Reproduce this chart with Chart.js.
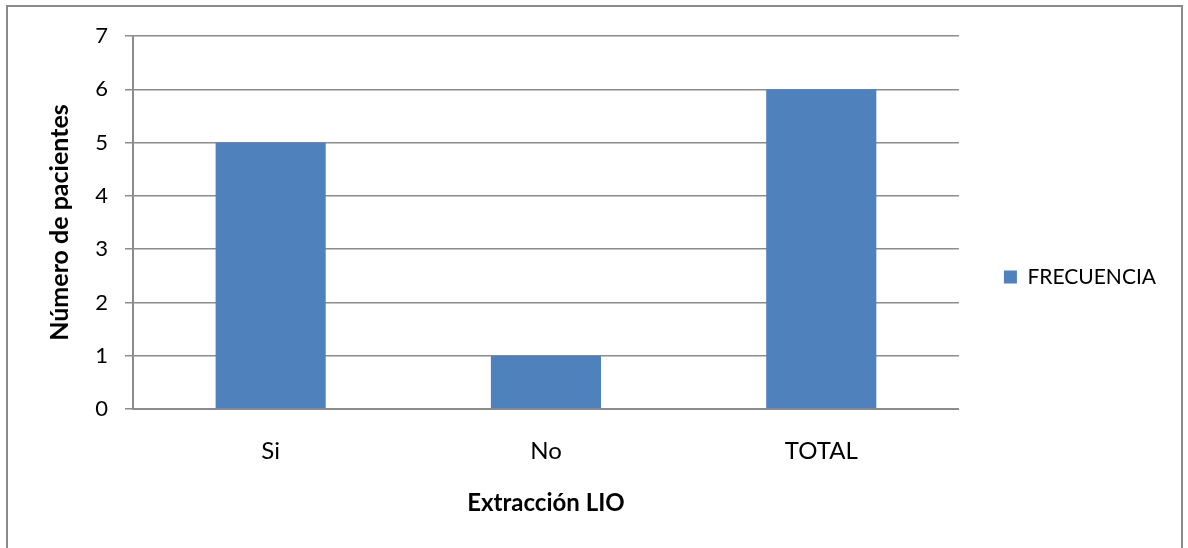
<!DOCTYPE html>
<html>
<head>
<meta charset="utf-8">
<script src="https://cdn.jsdelivr.net/npm/chart.js@4"></script>
<style>
  html, body { margin: 0; padding: 0; background: #ffffff; }
  body { width: 1188px; height: 548px; position: relative; overflow: hidden; }
  #frame {
    position: absolute; left: 6px; top: 5px; width: 1177px; height: 560px;
    border: 2px solid #8a8a8a; box-sizing: border-box; background: #fff;
  }
  #wrap { position: absolute; left: 0; top: 0; width: 1188px; height: 548px; }
</style>
</head>
<body>
<div id="frame"></div>
<div id="wrap"><canvas id="chart" width="1188" height="548"></canvas></div>
<script>
// Extracción de LIO: número de pacientes por categoría
const categories = ['Si', 'No', 'TOTAL'];
const frecuencia = [5, 1, 6];
const yTicks = [0, 1, 2, 3, 4, 5, 6, 7];
const seriesName = 'FRECUENCIA';
const xTitle = 'Extracción LIO';
const yTitle = 'Número de pacientes';

const FONT = 'Lato, "Open Sans", sans-serif';
const GRID = '#8c8c8c';

// raise the right-hand legend a little above the vertical middle
const legendLift = {
  id: 'legendLift',
  afterLayout(chart) {
    const lg = chart.legend;
    if (lg) { lg.top -= 15; lg.bottom -= 15; }
  }
};

new Chart(document.getElementById('chart'), {
  type: 'bar',
  plugins: [legendLift],
  data: {
    labels: categories,
    datasets: [{
      label: seriesName,
      data: frecuencia,
      backgroundColor: '#4F81BD',
      borderWidth: 0,
      barPercentage: 0.8,
      categoryPercentage: 0.5
    }]
  },
  options: {
    responsive: false,
    animation: false,
    layout: { padding: { left: 0, right: 22, top: 36, bottom: 0 } },
    plugins: {
      tooltip: { enabled: false },
      legend: {
        position: 'right',
        labels: {
          boxWidth: 13, boxHeight: 13, padding: 45,
          color: '#000', font: { family: FONT, size: 21 }
        }
      }
    },
    scales: {
      x: {
        offset: true,
        afterFit: (axis) => { axis.height = 139; },
        grid: { display: false, drawTicks: false },
        border: { display: true, color: GRID, width: 2 },
        ticks: { color: '#000', font: { family: FONT, size: 24 }, padding: 28 },
        title: {
          display: true, text: xTitle, color: '#000',
          font: { family: FONT, size: 24, weight: 'bold' }, padding: { top: 0, bottom: 30 }
        }
      },
      y: {
        min: 0, max: 7,
        afterBuildTicks: (axis) => { axis.ticks = yTicks.map(v => ({ value: v })); },
        afterFit: (axis) => { axis.width = 133; },
        grid: { color: GRID, lineWidth: 1.5, tickLength: 8, drawTicks: true },
        border: { display: true, color: GRID, width: 2 },
        ticks: { color: '#000', font: { family: FONT, size: 22 }, padding: 17 },
        title: {
          display: true, text: yTitle, color: '#000',
          font: { family: FONT, size: 25, weight: 'bold' }, padding: { top: 45, bottom: 0 }
        }
      }
    }
  }
});
</script>
</body>
</html>
